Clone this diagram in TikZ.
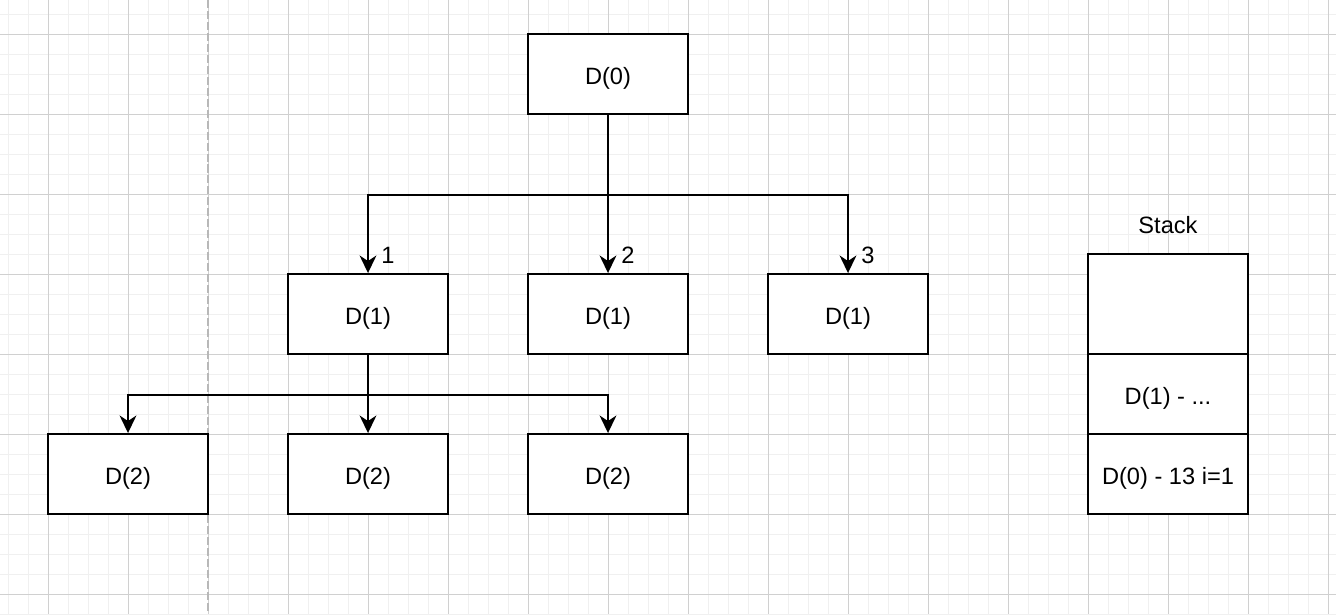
\documentclass[tikz,border=0pt]{standalone}
\usepackage{fontspec}
\setmainfont{Liberation Sans}
\usetikzlibrary{arrows.meta, positioning, calc}

\definecolor{minorgrid}{HTML}{F0F0F0}
\definecolor{majorgrid}{HTML}{D0D0D0}
\definecolor{splitline}{HTML}{B8B8B8}

\tikzset{
  box/.style={draw, line width=1.4pt, minimum width=4cm, minimum height=2cm, inner sep=0pt, fill=white,
    text height=14.5pt, text depth=0pt},
  stackcell/.style={box, outer sep=0pt},
  conn/.style={line width=1.4pt, -{Stealth[length=12.5pt, width=12pt, inset=4pt]}},
  trunk/.style={line width=1.4pt},
  numlabel/.style={font=\fontsize{16.8}{20}\selectfont},
}

\begin{document}
\begin{tikzpicture}[font=\fontsize{16.8}{20}\selectfont]
  \useasboundingbox (0,0) rectangle (33.4,-15.35);
  \fill[white] (0,0) rectangle (33.4,-15.35);
  % Grid
  \foreach \x in {0.2,0.7,...,33.4} \draw[minorgrid, line width=0.7pt] (\x,0) -- (\x,-15.35);
  \foreach \y in {0.35,0.85,...,15.35} \draw[minorgrid, line width=0.7pt] (0,-\y) -- (33.4,-\y);
  \foreach \x in {1.2,3.2,...,33.4} \draw[majorgrid, line width=0.7pt] (\x,0) -- (\x,-15.35);
  \foreach \y in {0.85,2.85,...,15.35} \draw[majorgrid, line width=0.7pt] (0,-\y) -- (33.4,-\y);
  % Dashed split
  \draw[splitline, line width=1pt, dash pattern=on 5.7pt off 2.1pt] (5.2,0) -- (5.2,-15.35);

  % Tree
  \node[box] (d0) at (15.2,-1.85) {D(0)};
  \node[box] (d1a) at (9.2,-7.85) {D(1)};
  \node[box] (d1b) at (15.2,-7.85) {D(1)};
  \node[box] (d1c) at (21.2,-7.85) {D(1)};
  \node[box] (d2a) at (3.2,-11.85) {D(2)};
  \node[box] (d2b) at (9.2,-11.85) {D(2)};
  \node[box] (d2c) at (15.2,-11.85) {D(2)};

  \coordinate (s0) at ($(d0.south)+(0,-2)$);
  \coordinate (s1) at ($(d1a.south)+(0,-1)$);

  \draw[trunk] (d0.south) -- (s0);
  \draw[conn] (s0) -| (d1a.north) node[numlabel, pos=1, xshift=0.5cm, yshift=0.45cm] {1};
  \draw[conn] (s0) -- (d1b.north) node[numlabel, pos=1, xshift=0.5cm, yshift=0.45cm] {2};
  \draw[conn] (s0) -| (d1c.north) node[numlabel, pos=1, xshift=0.5cm, yshift=0.45cm] {3};

  \draw[trunk] (d1a.south) -- (s1);
  \draw[conn] (s1) -| (d2a.north);
  \draw[conn] (s1) -- (d2b.north);
  \draw[conn] (s1) -| (d2c.north);

  % Stack
  \node[stackcell, minimum height=2.5cm] (stk1) at (29.2,-7.6) {};
  \node[stackcell, below=0pt of stk1] (stk2) {D(1) - ...};
  \node[stackcell, below=0pt of stk2] (stk3) {D(0) - 13 i=1};
  \node (stklbl) at (29.2,-5.62) {Stack};
\end{tikzpicture}
\end{document}
